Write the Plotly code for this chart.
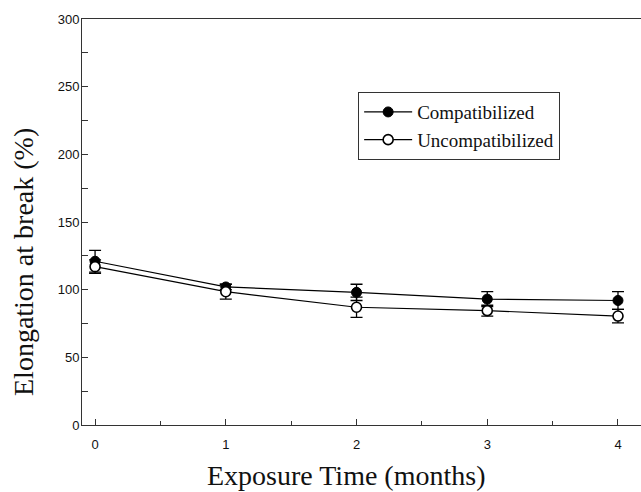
import plotly.graph_objects as go

months = [0, 1, 2, 3, 4]
comp = [121, 102, 98, 93, 92]
comp_err = [8, 2, 6, 5.5, 6.5]
uncomp = [117, 98.5, 87, 84.5, 80.5]
uncomp_err = [5, 5.5, 7.5, 4, 5]
y_ticks = [0, 50, 100, 150, 200, 250, 300]
x_ticks = [0, 1, 2, 3, 4]

fig = go.Figure()
fig.add_trace(go.Scatter(
    x=months, y=comp, name="Compatibilized", mode="lines+markers",
    line=dict(color="black", width=1.2),
    marker=dict(symbol="circle", size=10, color="black", line=dict(color="black", width=1)),
    error_y=dict(type="data", array=comp_err, color="black", thickness=1.3, width=6),
))
fig.add_trace(go.Scatter(
    x=months, y=uncomp, name="Uncompatibilized", mode="lines+markers",
    line=dict(color="black", width=1.2),
    marker=dict(symbol="circle", size=10, color="white", line=dict(color="black", width=1.6)),
    error_y=dict(type="data", array=uncomp_err, color="black", thickness=1.3, width=6),
))

fig.update_layout(
    width=641, height=492,
    margin=dict(l=82, r=0, t=19, b=67),
    paper_bgcolor="white", plot_bgcolor="white",
    font=dict(family="Liberation Serif", color="#111"),
    showlegend=True,
    legend=dict(
        x=0.494, y=0.82, xanchor="left", yanchor="top",
        bordercolor="#333", borderwidth=1, bgcolor="white",
        itemwidth=48,
        font=dict(family="Liberation Serif", size=19, color="#111"),
    ),
    xaxis=dict(
        range=[-0.1, 4.176], tickvals=x_ticks, ticktext=[str(v) for v in x_ticks],
        ticks="inside", ticklen=6, tickcolor="#333",
        minor=dict(dtick=0.5, tick0=0, ticks="inside", ticklen=4, tickcolor="#333"),
        showline=True, linecolor="#333", linewidth=1, mirror=True,
        showgrid=False, zeroline=False,
        tickfont=dict(family="Liberation Sans", size=13, color="#111"),
        ticklabelstandoff=7,
    ),
    yaxis=dict(
        range=[0, 300], tickvals=y_ticks, ticktext=[str(v) for v in y_ticks],
        ticks="inside", ticklen=6, tickcolor="#333",
        minor=dict(dtick=25, tick0=0, ticks="inside", ticklen=6, tickcolor="#333"),
        showline=True, linecolor="#333", linewidth=1, mirror=False,
        showgrid=False, zeroline=False,
        tickfont=dict(family="Liberation Sans", size=13, color="#111"),
        ticklabelstandoff=-1,
    ),
    annotations=[
        dict(text="Exposure Time (months)", xref="paper", yref="paper",
             x=(346 - 82) / 559, y=-(475 - 425) / 406, xanchor="center", yanchor="middle",
             showarrow=False, font=dict(family="Liberation Serif", size=28, color="#111")),
        dict(text="Elongation at break (%)", xref="paper", yref="paper",
             x=-(82 - 23) / 559, y=(425 - 262) / 406, xanchor="center", yanchor="middle",
             textangle=-90, showarrow=False,
             font=dict(family="Liberation Serif", size=28, color="#111")),
    ],
)

fig.write_html("out.html")
